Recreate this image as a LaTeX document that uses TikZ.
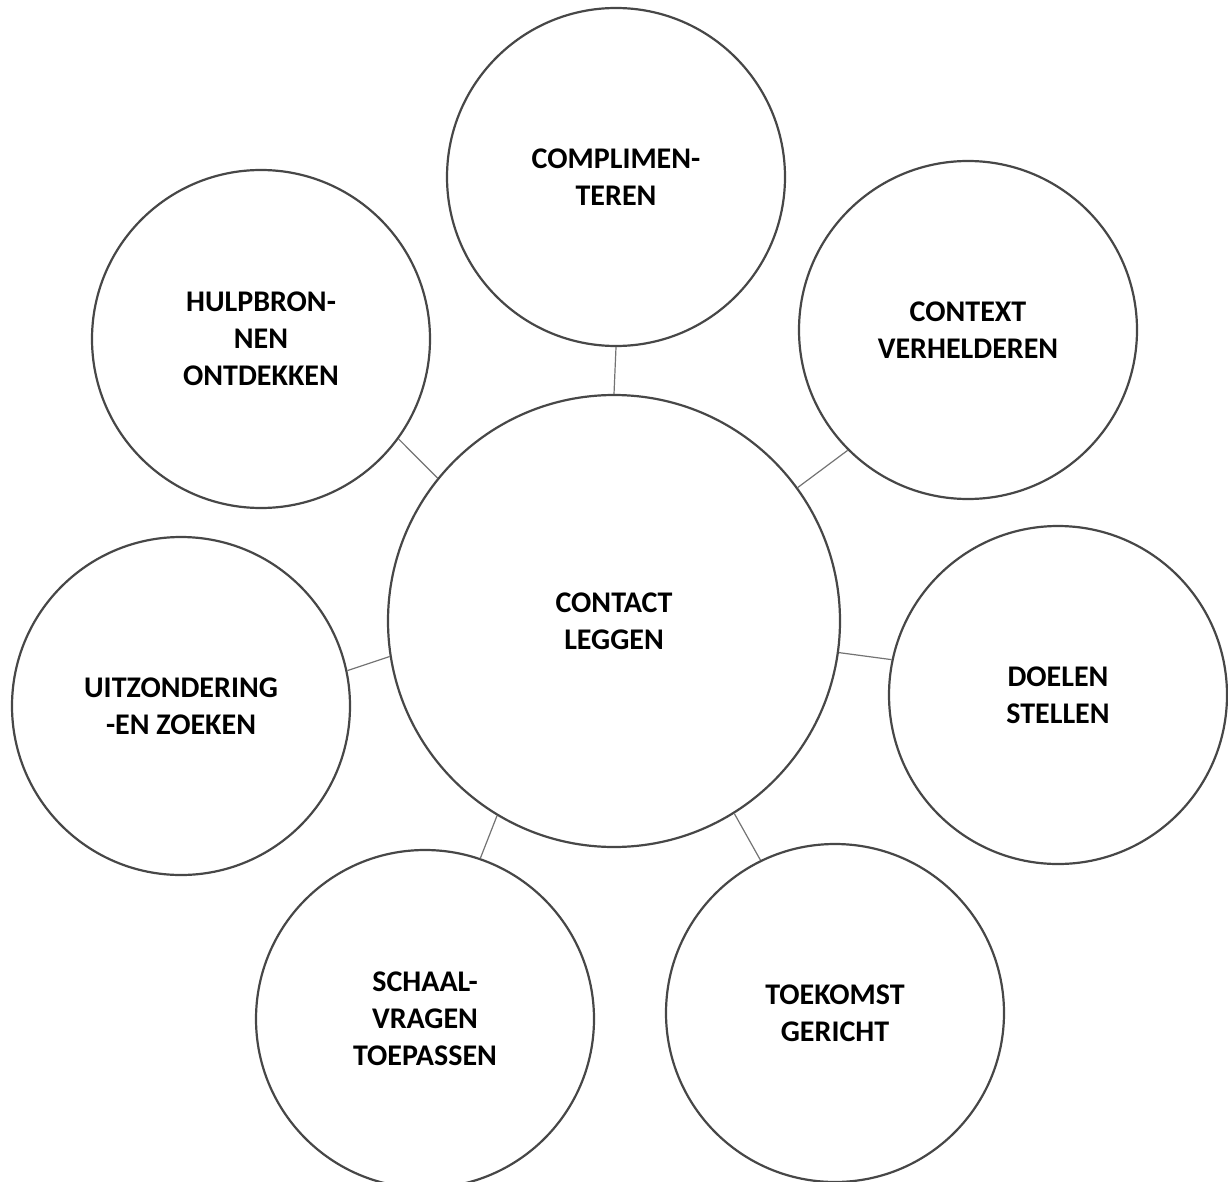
\documentclass[tikz,border=0pt]{standalone}
\usepackage{fontspec}
\setmainfont{Carlito}
\begin{document}
\begin{tikzpicture}[x=1pt,y=-1pt,
  bubble/.style={circle,draw=black!72,line width=2.2pt,inner sep=0pt,
    minimum size=338pt,align=center,
    font=\fontsize{30}{37}\selectfont\bfseries},
  hub/.style={bubble,minimum size=452pt},
  link/.style={draw=black!55,line width=1.2pt}]
\useasboundingbox (0,0) rectangle (1228,1182);
\node[hub]    (c)   at (614,621)  {CONTACT\\LEGGEN};
\node[bubble] (top) at (616,177)  {COMPLIMEN-\\TEREN};
\node[bubble] (ctx) at (968,330)  {CONTEXT\\VERHELDEREN};
\node[bubble] (doe) at (1058,695) {DOELEN\\STELLEN};
\node[bubble] (toe) at (835,1013) {TOEKOMST\\GERICHT};
\node[bubble] (sch) at (425,1019) {SCHAAL-\\VRAGEN\\TOEPASSEN};
\node[bubble] (uit) at (181,706)  {UITZONDERING\\-EN ZOEKEN};
\node[bubble] (hul) at (261,339)  {HULPBRON-\\NEN\\ONTDEKKEN};
\draw[link] (c.90)    -- (top.270);
\draw[link] (c.36)    -- (ctx.225);
\draw[link] (c.-8.6)  -- (doe.168.7);
\draw[link] (c.-58.7) -- (toe.116.3);
\draw[link] (c.239.2) -- (sch.71);
\draw[link] (c.189.8) -- (uit.12.7);
\draw[link] (c.141.1) -- (hul.-36);
\end{tikzpicture}
\end{document}
